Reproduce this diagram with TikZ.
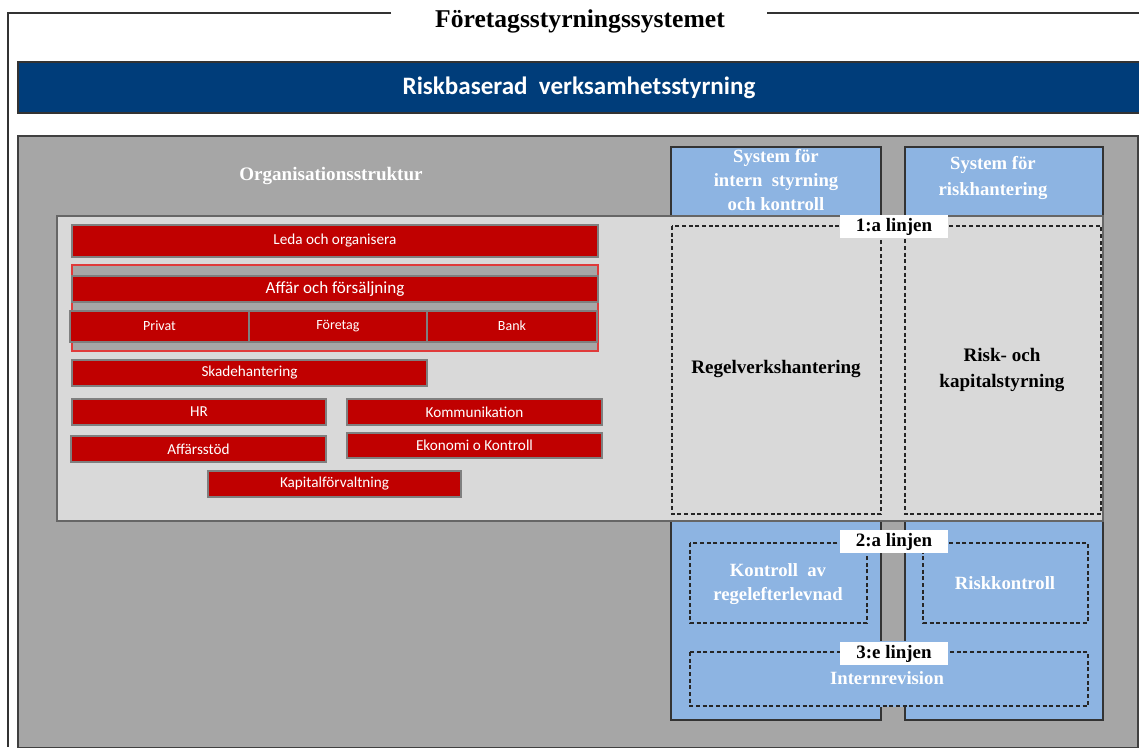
\documentclass[tikz,border=0pt]{standalone}
\usepackage{fontspec}
\setmainfont{Liberation Serif}
\newfontfamily\calib{Carlito}
\definecolor{navy}{HTML}{003D7A}
\definecolor{midgray}{HTML}{A6A6A6}
\definecolor{lightgray2}{HTML}{D9D9D9}
\definecolor{colblue}{HTML}{8DB4E2}
\definecolor{boxred}{HTML}{C00000}
\definecolor{edgegray}{HTML}{7F7F7F}
\definecolor{brightred}{HTML}{E03A3A}
\begin{document}
\begin{tikzpicture}[x=0.75pt,y=-0.75pt,
  redbox/.style={fill=boxred,draw=edgegray,line width=0.8pt},
  redtext/.style={text=white,font=\calib\fontsize{11.4}{13}\selectfont,inner sep=0pt},
  smalltext/.style={text=white,font=\calib\fontsize{10.5}{12}\selectfont,inner sep=0pt},
  whitehead/.style={text=white,font=\bfseries\fontsize{14}{18}\selectfont,align=center,inner sep=0pt},
  blackhead/.style={text=black,font=\bfseries\fontsize{14.3}{19}\selectfont,align=center,inner sep=0pt},
  dashbox/.style={draw=black!85,dash pattern=on 3pt off 2pt,line width=0.8pt},
  linelabel/.style={fill=white,text=black,font=\bfseries\fontsize{14.2}{16}\selectfont,minimum width=81pt,minimum height=17.5pt,inner sep=0pt},
  frameline/.style={draw=black!80,line width=1.2pt}
]
\useasboundingbox[fill=white] (0,0) rectangle (1139,747);
% outer frame
\coordinate (fa) at (8,13);
\coordinate (fb) at (391,13);
\coordinate (fc) at (767,13);
\coordinate (fd) at (1139,13);
\coordinate (fe) at (8,747);
\draw[frameline] (fb) -- (fa) -- (fe);
\draw[frameline] (fc) -- (fd);
\node[font=\bfseries\fontsize{19.2}{22}\selectfont,inner sep=0pt] (title) at (580,21) {Företagsstyrningssystemet};
% blue bar
\path[fill=navy,draw=black!80,line width=0.8pt] (18,62) rectangle (1140,113);
\node[text=white,font=\calib\bfseries\fontsize{18.8}{22}\selectfont,inner sep=0pt] (rbv) at (579,88) {Riskbaserad\ \ verksamhetsstyrning};
% gray region
\path[fill=midgray,draw=black!75,line width=0.8pt] (18,136) rectangle (1138,748);
% blue columns
\path[fill=colblue,draw=black!80,line width=1pt] (671,147) rectangle (881,720);
\path[fill=colblue,draw=black!80,line width=1pt] (905,147) rectangle (1103,720);
\path[fill=colblue] (880.3,641) rectangle (905.7,707);
% light gray region
\path[fill=lightgray2,draw=black!60,line width=0.8pt] (57,216) rectangle (1103,521);
% headings
\node[whitehead,font=\bfseries\fontsize{14.3}{18}\selectfont] (org) at (331,176) {Organisationsstruktur};
\node[whitehead,font=\bfseries\fontsize{14}{18}\selectfont] (sys1) at (776,180) {System för\\intern\ \ styrning\\och kontroll};
\node[whitehead,font=\bfseries\fontsize{14}{20}\selectfont] (sys2) at (993,178) {System för\\riskhantering};
% first line dashed boxes
\path[dashbox] (672,226) rectangle (881,514);
\path[dashbox] (905,226) rectangle (1101,514);
\node[blackhead] (regel) at (776,369) {Regelverkshantering};
\node[blackhead] (risk) at (1002,370) {Risk- och\\kapitalstyrning};
% second / third line
\path[dashbox] (690,543) rectangle (867,623);
\path[dashbox] (923,543) rectangle (1088,623);
\path[dashbox] (690,652) rectangle (1088,706);
\node[whitehead] (kontroll) at (778,584) {Kontroll\ \ av\\regelefterlevnad};
\node[whitehead] (riskk) at (1005,583) {Riskkontroll};
\node[whitehead] (intern) at (887,678) {Internrevision};
\node[linelabel] (l1) at (894,226.5) {1:a linjen};
\node[linelabel] (l2) at (894,541.5) {2:a linjen};
\node[linelabel] (l3) at (894,653.5) {3:e linjen};
% red boxes
\path[redbox] (72,225) rectangle (598,257);
\node[redtext] (leda) at (335,241) {Leda och organisera};
\path[fill=midgray,draw=brightred,line width=0.9pt] (72,265) rectangle (598,351);
\path[redbox] (72,276) rectangle (598,302);
\node[redtext,font=\calib\fontsize{12.8}{15}\selectfont] (aff) at (335,289) {Affär och försäljning};
\path[redbox] (70,311) rectangle (249,342);
\path[redbox] (249,311) rectangle (427,342);
\path[redbox] (427,311) rectangle (597,342);
\node[smalltext] (privat) at (159.5,326) {Privat};
\node[smalltext] (foretag) at (338,326) {Företag};
\node[smalltext] (bank) at (512,326) {Bank};
\path[redbox] (72,360) rectangle (427,386);
\node[redtext] (skade) at (249.5,373) {Skadehantering};
\path[redbox] (72,399) rectangle (326,425);
\node[redtext] (hr) at (199,412) {HR};
\path[redbox] (347,399) rectangle (602,425);
\node[redtext] (komm) at (474.5,412) {Kommunikation};
\path[redbox] (71,436) rectangle (326,462);
\node[redtext] (affst) at (198.5,449) {Affärsstöd};
\path[redbox] (347,433) rectangle (602,458);
\node[redtext] (ekon) at (474.5,445.5) {Ekonomi o Kontroll};
\path[redbox] (208,471) rectangle (461,497);
\node[redtext] (kapital) at (334.5,484) {Kapitalförvaltning};
\end{tikzpicture}
\end{document}
